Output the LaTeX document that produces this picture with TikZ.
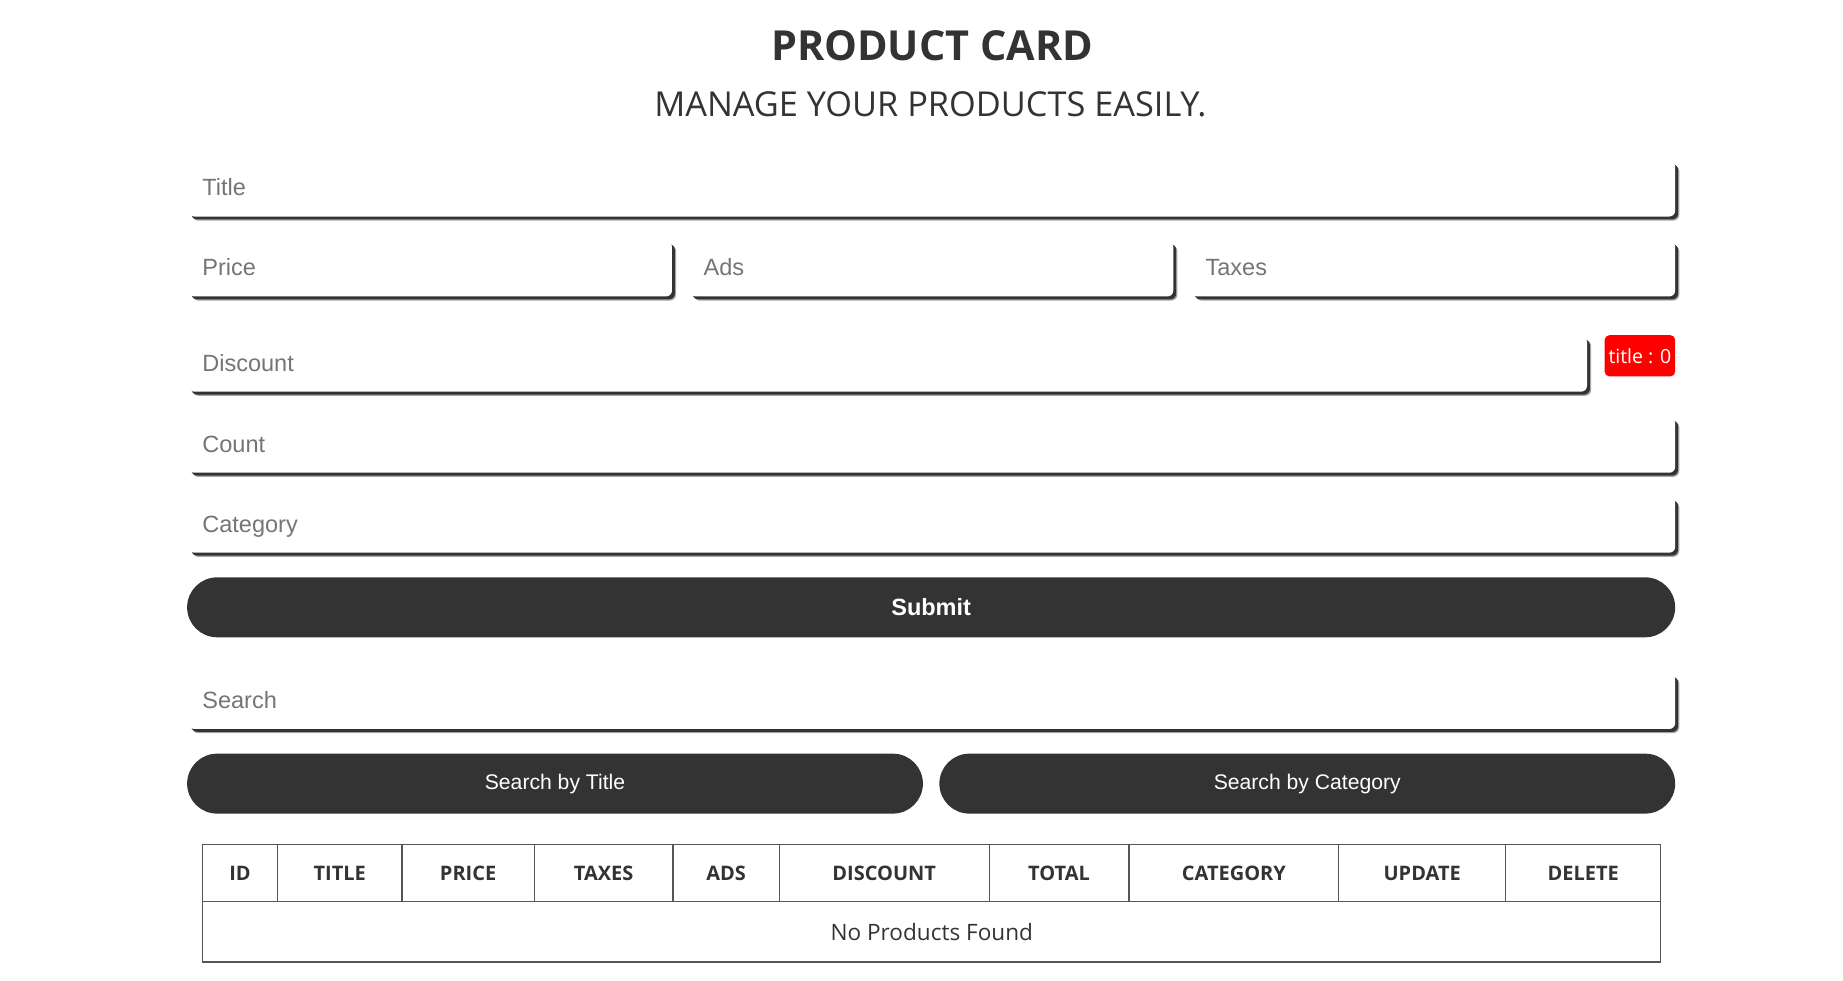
\documentclass[tikz,border=0pt]{standalone}
\usepackage{fontspec}
\setmainfont{Open Sans}
\newfontfamily\arial{Liberation Sans}
\usetikzlibrary{shadows}
\definecolor{ink}{HTML}{333333}
\definecolor{hint}{HTML}{757575}
\definecolor{grid}{HTML}{555555}
\begin{document}
\begin{tikzpicture}[x=1pt,y=-1pt,
	field/.style={anchor=north west, fill=white, rounded corners=5pt, minimum height=47pt, inner xsep=12pt, inner ysep=0pt, align=left, text height=16pt, text depth=4pt, text=hint, font=\arial\fontsize{20}{24}\selectfont,
		general shadow={fill=black!35, shadow xshift=3.5pt, shadow yshift=-3.5pt},
		general shadow={fill=ink, shadow xshift=2.5pt, shadow yshift=-2.5pt}},
	pill/.style={anchor=north west, fill=ink, rounded corners=25.5pt, minimum height=51pt, text=white, font=\arial\fontsize{18}{22}\selectfont},
	head/.style={anchor=north west, draw=grid, line width=1pt, minimum height=48.5pt, inner sep=0pt, text=ink, font=\bfseries\fontsize{17}{20}\selectfont}]
	\fill[white] (0,0) rectangle (1568,834.6);
	\useasboundingbox (0,0) rectangle (1568,834.6);
	\node[text=ink, font=\bfseries\fontsize{35.2}{40}\selectfont] (heading) at (793,38.5) {PRODUCT CARD};
	\node[text=ink, font=\fontsize{29.2}{34}\selectfont] (slogan) at (791.6,88.6) {MANAGE YOUR PRODUCTS EASILY.};
	\node[field, text width=1241pt] (title) at (160,137) {Title};
	\node[field, text width=387.5pt] (price) at (160,205) {Price};
	\node[field, text width=387.5pt] (ads) at (586.5,205) {Ads};
	\node[field, text width=387.5pt] (taxes) at (1013.5,205) {Taxes};
	\node[field, text width=1166pt] (discount) at (160,286) {Discount};
	\node[anchor=north west, fill=red, rounded corners=4pt, minimum width=60pt, minimum height=35pt, inner sep=0pt, text=white, font=\fontsize{16.6}{20}\selectfont] (total) at (1365,285) {title : 0};
	\node[field, text width=1241pt] (count) at (160,355) {Count};
	\node[field, text width=1241pt] (category) at (160,423) {Category};
	\node[pill, minimum width=1266pt, font=\arial\bfseries\fontsize{20}{24}\selectfont] (submit) at (159,491) {Submit};
	\node[field, text width=1241pt] (search) at (160,573) {Search};
	\node[pill, minimum width=626pt] (bytitle) at (159,641) {Search by Title};
	\node[pill, minimum width=626pt] (bycategory) at (799,641) {Search by Category};
	\foreach \l/\r/\t [count=\i] in {172/235.5/ID, 235.5/341.5/TITLE, 341.5/454/PRICE, 454/572/TAXES, 572/662.5/ADS, 662.5/841/DISCOUNT, 841/960/TOTAL, 960/1138.5/CATEGORY, 1138.5/1280.5/UPDATE, 1280.5/1412.5/DELETE}
		\node[head, minimum width=\r-\l] (col\i) at (\l,718) {\t};
	\node[head, minimum width=1240.5, minimum height=51.5, font=\fontsize{19.2}{23}\selectfont] (empty) at (172,766.5) {No Products Found};
\end{tikzpicture}
\end{document}
